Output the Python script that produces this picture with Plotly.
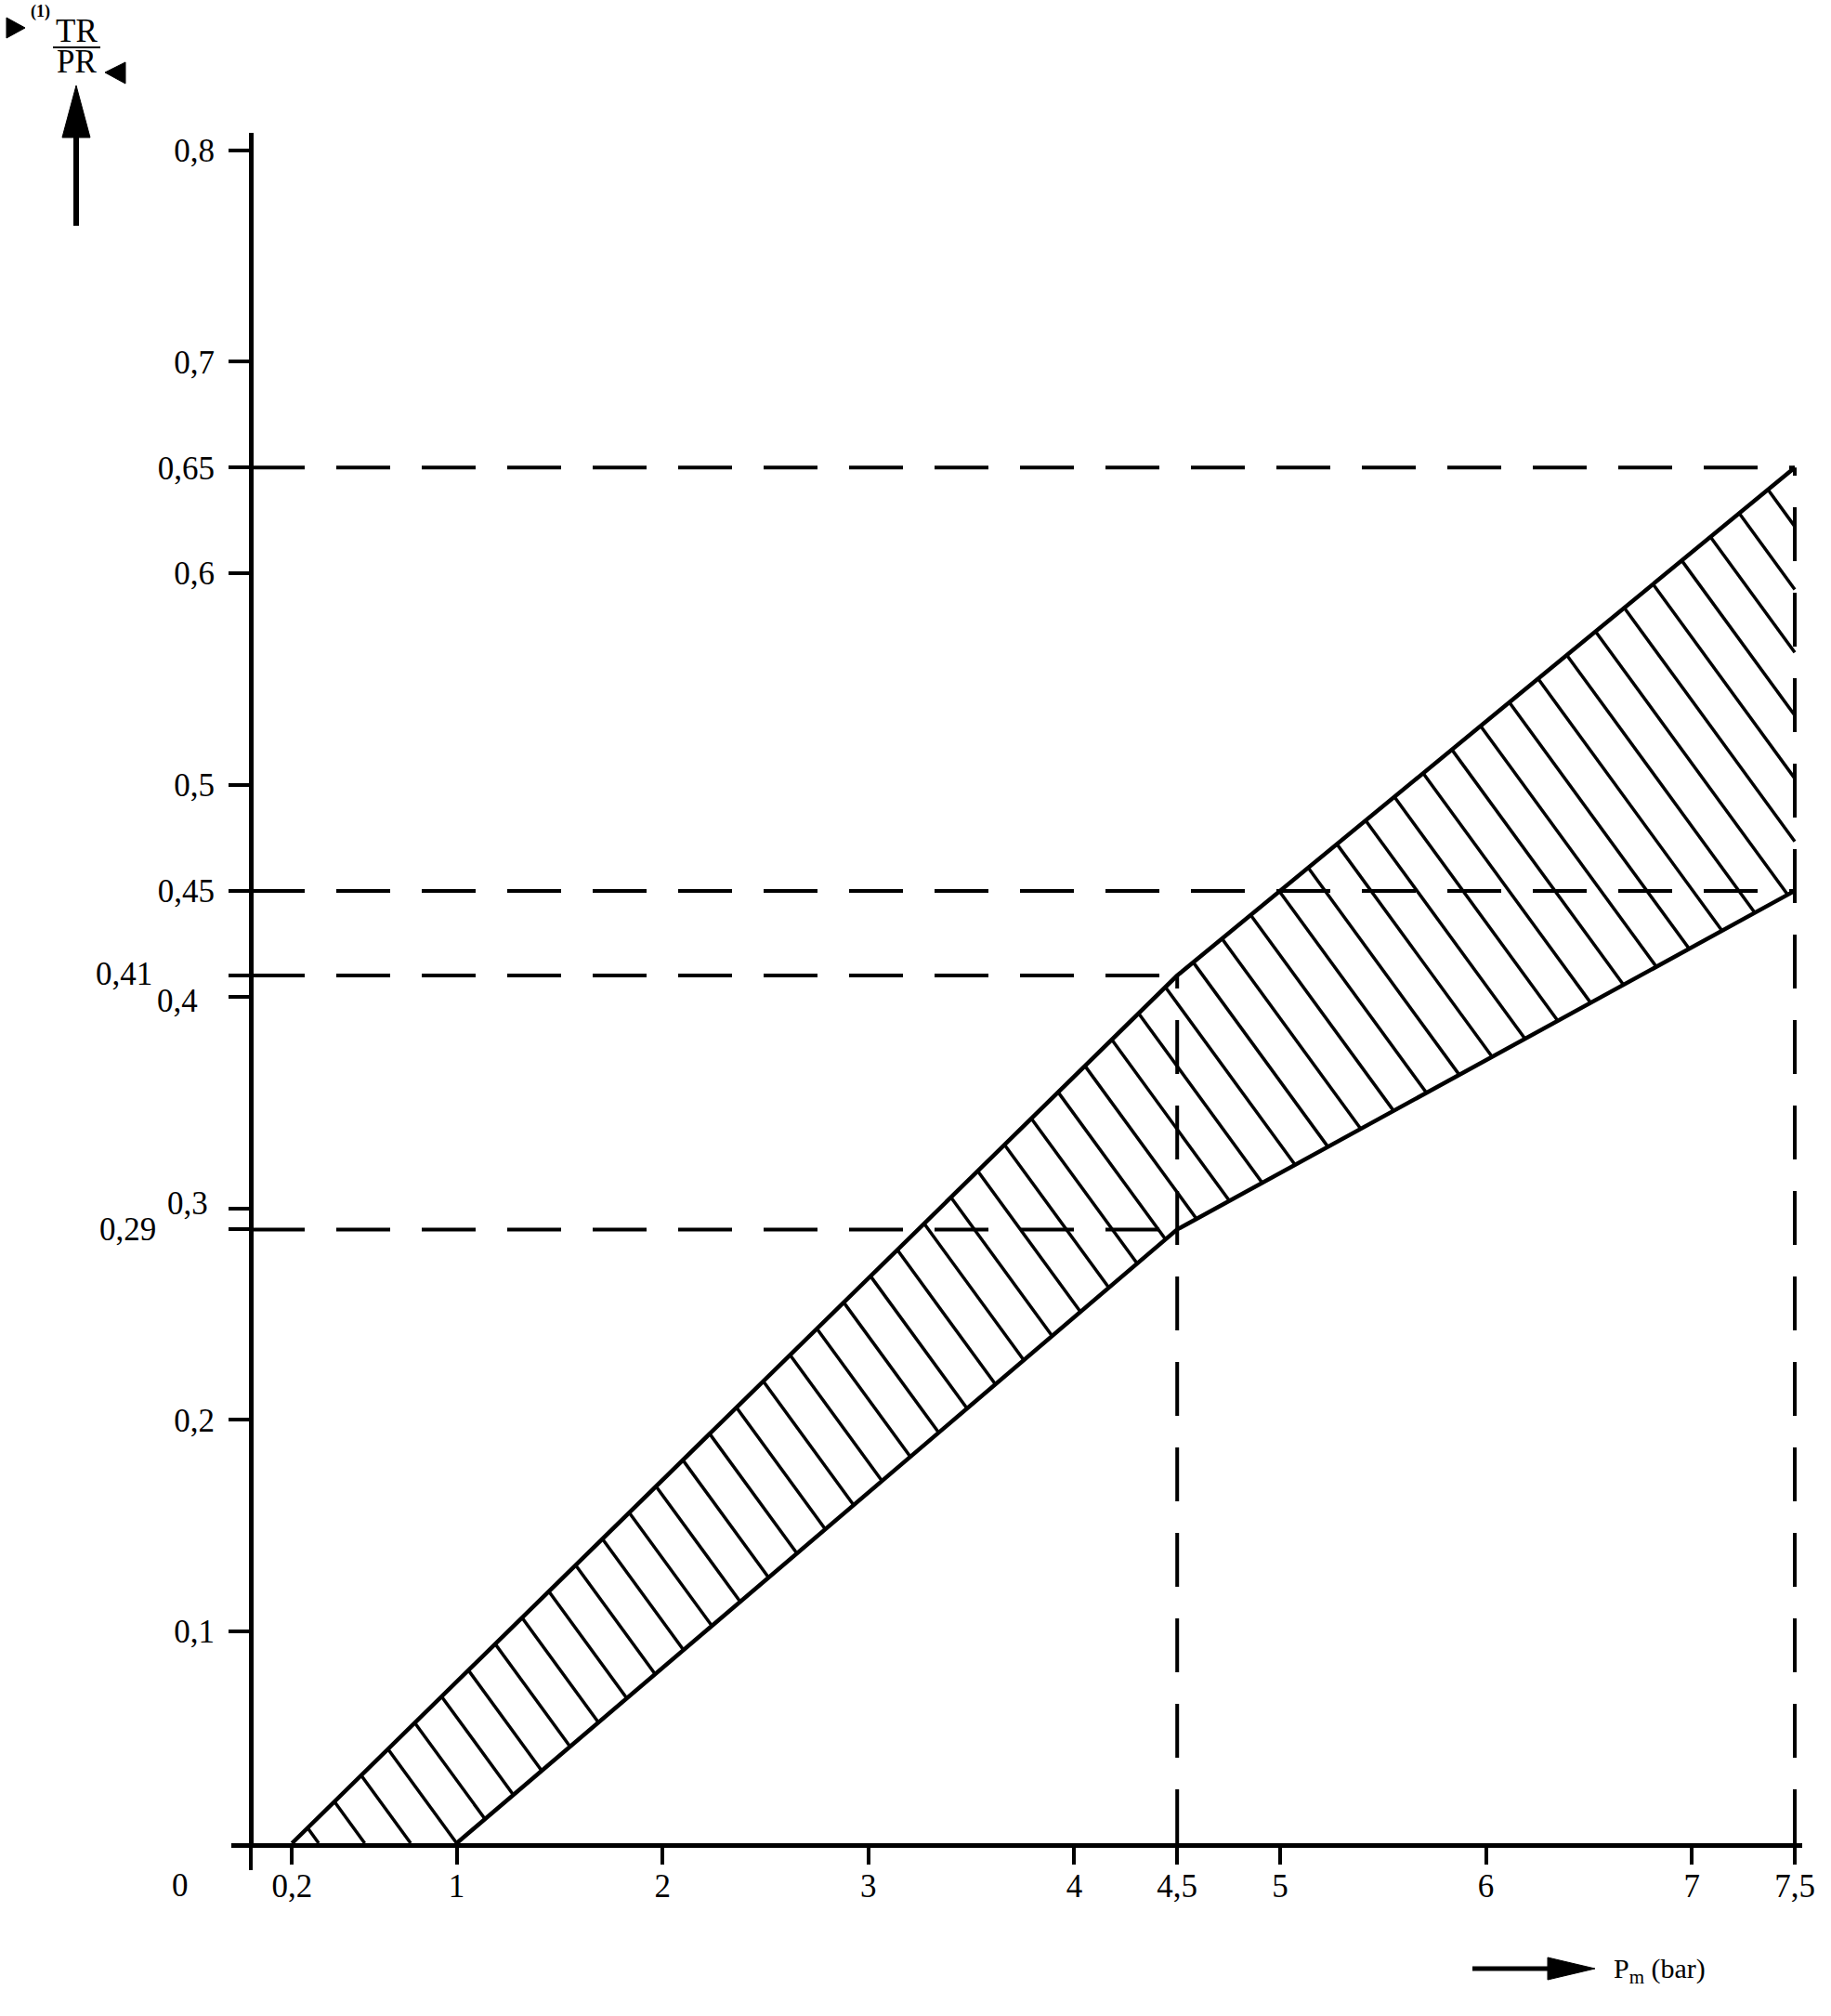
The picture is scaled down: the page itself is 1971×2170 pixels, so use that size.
import numpy as np
import plotly.graph_objects as go

# ---------------- data ----------------
x_tickvals = [0.2, 1, 2, 3, 4, 4.5, 5, 6, 7, 7.5]
x_ticktext = ["0,2", "1", "2", "3", "4", "4,5", "5", "6", "7", "7,5"]
x_minor_ticks = [0]
y_tickvals = [0.1, 0.2, 0.45, 0.5, 0.6, 0.65, 0.7, 0.8]
y_ticktext = ["0,1", "0,2", "0,45", "0,5", "0,6", "0,65", "0,7", "0,8"]

upper_x = [0.2, 4.5, 7.5]
upper_y = [0.0, 0.41, 0.65]
lower_x = [1.0, 4.5, 7.5]
lower_y = [0.0, 0.29, 0.45]

ref_levels = [0.29, 0.41, 0.45, 0.65]
ref_level_xend = [4.5, 4.5, 7.5, 7.5]
ref_vert_x = [4.5, 7.5]
ref_vert_ytop = [0.41, 0.65]

special_labels = ["0,41", "0,4", "0,3", "0,29"]
special_vals = [0.41, 0.4, 0.3, 0.29]

# ---------------- geometry / style ----------------
W, H = 1971, 2170
ML, MR, MT, MB = 249, 31, 143, 186
X0_PX = 270.0          # pixel column of x = 0
PX_PER_X = 221.6
PX_PER_Y = 2278.0
PW, PH = W - ML - MR, H - MT - MB
x_range = [(ML - X0_PX) / PX_PER_X, (W - MR - X0_PX) / PX_PER_X]
y_range = [0.0, PH / PX_PER_Y]

FONT = "Liberation Serif, Times New Roman, serif"
DASH = "58px,34px"


def px(xp):
    return (xp - ML) / PW


def py(yp):
    return (H - MB - yp) / PH


# ---------------- hatching (derived from the band boundaries) ----------------
HATCH_SLOPE_PX = 1.37
HATCH_SPACING_PX = 49.5
slope_d = -HATCH_SLOPE_PX * PX_PER_X / PX_PER_Y
spacing_d = HATCH_SPACING_PX / PX_PER_X

xs = np.linspace(upper_x[0], upper_x[-1], 40001)
up = np.interp(xs, upper_x, upper_y)
lo = np.interp(xs, lower_x, lower_y)
hx, hy = [], []
for k in range(-10, 90):
    xk = lower_x[0] + k * spacing_d
    yl = slope_d * (xs - xk)
    m = (yl >= lo - 1e-9) & (yl <= up + 1e-9)
    if m.sum() < 2:
        continue
    xa, xb = xs[m][0], xs[m][-1]
    hx += [xa, xb, None]
    hy += [slope_d * (xa - xk), slope_d * (xb - xk), None]

fig = go.Figure()

# dashed reference lines
for lvl, xe in zip(ref_levels, ref_level_xend):
    fig.add_trace(go.Scatter(x=[0, xe], y=[lvl, lvl], mode="lines",
                             line=dict(color="black", width=4, dash=DASH),
                             hoverinfo="skip", showlegend=False))
for xv, yt in zip(ref_vert_x, ref_vert_ytop):
    fig.add_trace(go.Scatter(x=[xv, xv], y=[0, yt], mode="lines",
                             line=dict(color="black", width=4, dash=DASH),
                             hoverinfo="skip", showlegend=False))

# hatching
fig.add_trace(go.Scatter(x=hx, y=hy, mode="lines",
                         line=dict(color="black", width=3.5),
                         hoverinfo="skip", showlegend=False))
# band boundaries
fig.add_trace(go.Scatter(x=upper_x, y=upper_y, mode="lines",
                         line=dict(color="black", width=4.5),
                         hoverinfo="skip", showlegend=False))
fig.add_trace(go.Scatter(x=lower_x, y=lower_y, mode="lines",
                         line=dict(color="black", width=4.5),
                         hoverinfo="skip", showlegend=False))

annotations = []
# special y labels (offset from the axis like in the original drawing)
spec_xright = [166, 215, 226, 170]
spec_yshift = [2, -5, 5, 0]
for t, v, xr, ys in zip(special_labels, special_vals, spec_xright, spec_yshift):
    annotations.append(dict(text=t, x=px(xr), xref="paper", y=v, yref="y",
                            yshift=ys, xanchor="right", yanchor="middle",
                            showarrow=False, font=dict(family=FONT, size=35, color="black")))
# origin label
annotations.append(dict(text="0", x=px(194), y=py(2030), xref="paper", yref="paper",
                        xanchor="center", yanchor="middle", showarrow=False,
                        font=dict(family=FONT, size=35, color="black")))
# y-axis title pieces
annotations.append(dict(text="TR", x=px(82), y=py(34), xref="paper", yref="paper",
                        xanchor="center", yanchor="middle", showarrow=False,
                        font=dict(family=FONT, size=35, color="black")))
annotations.append(dict(text="PR", x=px(82), y=py(67), xref="paper", yref="paper",
                        xanchor="center", yanchor="middle", showarrow=False,
                        font=dict(family=FONT, size=35, color="black")))
annotations.append(dict(text="<b>(1)</b>", x=px(43), y=py(13), xref="paper", yref="paper",
                        xanchor="center", yanchor="middle", showarrow=False,
                        font=dict(family=FONT, size=18, color="black")))
# x-axis title
annotations.append(dict(text="P<sub>m</sub> (bar)", x=px(1735), y=py(2121), xref="paper",
                        yref="paper", xanchor="left", yanchor="middle", showarrow=False,
                        font=dict(family=FONT, size=30, color="black")))


def tri(pts):
    s = "M %f,%f " % (px(pts[0][0]), py(pts[0][1]))
    for p in pts[1:]:
        s += "L %f,%f " % (px(p[0]), py(p[1]))
    return s + "Z"


shapes = [
    # fraction bar
    dict(type="line", xref="paper", yref="paper", x0=px(57), x1=px(108), y0=py(51), y1=py(51),
         line=dict(color="black", width=2)),
    # up arrow
    dict(type="line", xref="paper", yref="paper", x0=px(82), x1=px(82), y0=py(140), y1=py(243),
         line=dict(color="black", width=6)),
    dict(type="path", xref="paper", yref="paper", path=tri([(82, 92), (67, 148), (97, 148)]),
         fillcolor="black", line=dict(color="black", width=1)),
    # small triangles
    dict(type="path", xref="paper", yref="paper", path=tri([(7, 19), (27, 30), (7, 41)]),
         fillcolor="black", line=dict(color="black", width=1)),
    dict(type="path", xref="paper", yref="paper", path=tri([(135, 67), (113, 78), (135, 90)]),
         fillcolor="black", line=dict(color="black", width=1)),
    # right arrow for x-axis title
    dict(type="line", xref="paper", yref="paper", x0=px(1585), x1=px(1675), y0=py(2119), y1=py(2119),
         line=dict(color="black", width=5)),
    dict(type="path", xref="paper", yref="paper", path=tri([(1666, 2107), (1717, 2119), (1666, 2131)]),
         fillcolor="black", line=dict(color="black", width=1)),
]

fig.update_layout(
    width=W, height=H,
    margin=dict(l=ML, r=MR, t=MT, b=MB, pad=0),
    paper_bgcolor="white", plot_bgcolor="white",
    showlegend=False,
    annotations=annotations,
    shapes=shapes,
    xaxis=dict(range=x_range, showgrid=False, zeroline=False, showline=True,
               linecolor="black", linewidth=5, ticks="outside", ticklen=18, tickwidth=4,
               tickcolor="black", tickvals=x_tickvals, ticktext=x_ticktext,
               tickfont=dict(family=FONT, size=35, color="black"), fixedrange=True,
               ticklabelstandoff=-7,
               minor=dict(tickvals=x_minor_ticks, ticks="outside", ticklen=24, tickwidth=4,
                          tickcolor="black", showgrid=False)),
    yaxis=dict(range=y_range, anchor="free", position=px(X0_PX), showgrid=False, zeroline=False,
               showline=True, linecolor="black", linewidth=5, ticks="outside", ticklen=22,
               tickwidth=4, tickcolor="black", tickvals=y_tickvals, ticktext=y_ticktext,
               tickfont=dict(family=FONT, size=35, color="black"), fixedrange=True,
               ticklabelstandoff=8,
               minor=dict(tickvals=special_vals, ticks="outside", ticklen=22, tickwidth=4,
                          tickcolor="black", showgrid=False)),
)

fig.write_html("out.html", config={"displayModeBar": False},
               post_script="document.body.style.margin='0px';")
